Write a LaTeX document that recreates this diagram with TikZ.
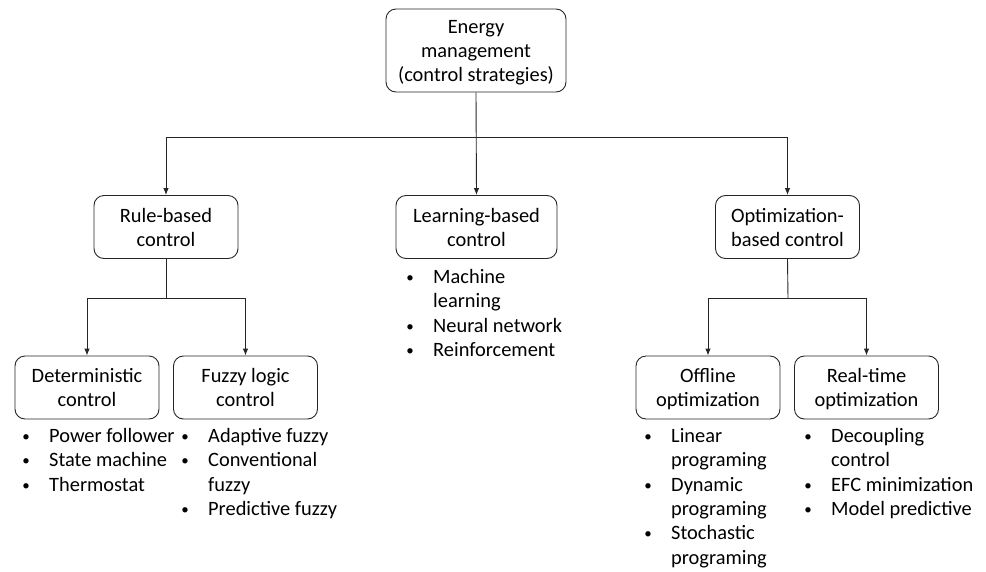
\documentclass[tikz,border=0pt]{standalone}
\usepackage{fontspec}
\setmainfont{Carlito}
\usetikzlibrary{arrows.meta,positioning}

\newcommand{\dotmark}{\makebox[10pt]{\raisebox{1pt}{\fontsize{15}{15}\selectfont\textbullet}}}
\newcommand{\bulletlist}[1]{\begin{tabular}{@{}p{28pt}@{}l@{}}#1\end{tabular}}
\newcommand{\boxlines}[1]{\raisebox{-7.5pt}[0pt][0pt]{\begin{tabular}{@{}c@{}}#1\end{tabular}}}

\begin{document}
\begin{tikzpicture}[x=1pt,y=-1pt,>={Latex[length=7pt,width=5.5pt]},
  box/.style={draw=black!85,line width=0.9pt,rounded corners=10pt,
    minimum width=144pt,minimum height=63pt,
    font=\fontsize{20.4}{24}\selectfont},
  items/.style={anchor=north west,inner sep=0pt,
    font=\fontsize{20.4}{24.4}\selectfont},
  link/.style={draw=black!85,line width=0.9pt}]
  \useasboundingbox (0,0) rectangle (986,571);
  % top level
  \node[box,minimum width=180pt,minimum height=83pt] (ems) at (476,50.5)
    {\boxlines{Energy\\management\\(control strategies)}};
  % second level
  \node[box] (rule) at (166,227) {\boxlines{Rule-based\\control}};
  \node[box,minimum width=161pt] (learn) at (476.5,227) {\boxlines{Learning-based\\control}};
  \node[box] (optim) at (787.5,227) {\boxlines{Optimization-\\based control}};
  % third level
  \node[box] (determ) at (87,387.5) {\boxlines{Deterministic\\control}};
  \node[box] (fuzzy) at (245.5,387.5) {\boxlines{Fuzzy logic\\control}};
  \node[box] (offline) at (708,387.5) {\boxlines{Offline\\optimization}};
  \node[box] (realtime) at (866.5,387.5) {\boxlines{Real-time\\optimization}};
  % branch points
  \coordinate (split) at (476,137);
  \coordinate (rulesplit) at (166,298);
  \coordinate (optsplit) at (788,298);
  \draw[link,->] (ems.south) -- (learn.north);
  \draw[link,->] (split) -| (rule.north);
  \draw[link,->] (split) -| (optim.north);
  \draw[link] (rule.south) -- (rulesplit);
  \draw[link,->] (rulesplit) -| (determ.north);
  \draw[link,->] (rulesplit) -| (fuzzy.north);
  \draw[link] (optim.south) -- (optsplit);
  \draw[link,->] (optsplit) -| (offline.north);
  \draw[link,->] (optsplit) -| (realtime.north);
  % lists
  \node[items] (learnlist) at (405,266) {\bulletlist{%
    \dotmark & Machine\\ & learning\\
    \dotmark & Neural network\\
    \dotmark & Reinforcement}};
  \node[items] (determlist) at (21,425) {\bulletlist{%
    \dotmark & Power follower\\
    \dotmark & State machine\\
    \dotmark & Thermostat}};
  \node[items] (fuzzylist) at (180,425) {\bulletlist{%
    \dotmark & Adaptive fuzzy\\
    \dotmark & Conventional\\ & fuzzy\\
    \dotmark & Predictive fuzzy}};
  \node[items] (offlinelist) at (643,425) {\bulletlist{%
    \dotmark & Linear\\ & programing\\
    \dotmark & Dynamic\\ & programing\\
    \dotmark & Stochastic\\ & programing}};
  \node[items] (realtimelist) at (803,425) {\bulletlist{%
    \dotmark & Decoupling\\ & control\\
    \dotmark & EFC minimization\\
    \dotmark & Model predictive}};
\end{tikzpicture}
\end{document}
